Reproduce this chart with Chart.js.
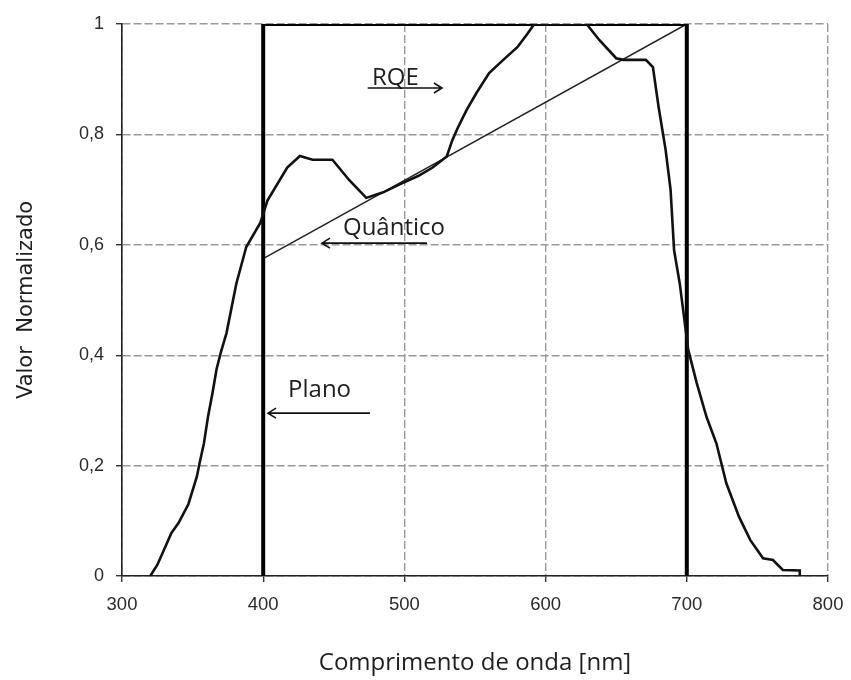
<!DOCTYPE html>
<html>
<head>
<meta charset="utf-8">
<script src="https://cdn.jsdelivr.net/npm/chart.js@4.4.1/dist/chart.umd.min.js"></script>
<style>
  html, body { margin: 0; padding: 0; background: #ffffff; }
  #wrap { width: 851px; height: 680px; }
</style>
</head>
<body>
<div id="wrap"><canvas id="c" width="851" height="680"></canvas></div>
<script>
// ---- Data ----
const rqeWavelength = [320, 325, 335, 340, 347, 353, 355, 358, 361, 364, 367, 370, 374, 381, 388, 398, 403, 417, 426, 435, 449, 461, 473, 485, 497, 510, 520, 530, 534, 538, 544, 551, 560, 570, 580, 587, 592, 600, 610, 620, 629, 638, 650, 655, 671, 676, 680, 685, 688.5, 691, 695, 698, 701, 707, 714, 721, 728, 737, 745, 754, 761, 768, 780, 780];
const rqeValue = [0.0, 0.02, 0.078, 0.096, 0.13, 0.18, 0.205, 0.24, 0.29, 0.33, 0.375, 0.405, 0.44, 0.53, 0.596, 0.64, 0.68, 0.74, 0.761, 0.754, 0.754, 0.717, 0.685, 0.695, 0.71, 0.725, 0.74, 0.76, 0.79, 0.813, 0.844, 0.875, 0.911, 0.935, 0.958, 0.982, 1.0, 1.0, 1.0, 1.0, 1.0, 0.971, 0.938, 0.935, 0.935, 0.922, 0.85, 0.772, 0.70, 0.59, 0.53, 0.47, 0.41, 0.35, 0.288, 0.24, 0.168, 0.107, 0.065, 0.032, 0.029, 0.011, 0.01, 0.0];

const planoWavelength = [400, 400, 700, 700];
const planoValue = [0, 1, 1, 0];

const quanticoWavelength = [400, 700];
const quanticoValue = [0.575, 1.0];

const xTicks = [300, 400, 500, 600, 700, 800];
const yTicks = [0, 0.2, 0.4, 0.6, 0.8, 1];

const seriesNames = ['RQE', 'Plano', 'Quântico'];
const xTitle = 'Comprimento de onda [nm]';
const yTitle = 'Valor  Normalizado';

// Annotation labels (data coordinates)
const labelText = ['RQE', 'Quântico', 'Plano'];
const labelX = [477, 456.5, 417.6];
const labelY = [0.889, 0.618, 0.324];
// Arrows: from (tail) -> to (head)
const arrowFromX = [474, 516, 475.6];
const arrowToX = [526.6, 441.6, 403.4];
const arrowY = [0.884, 0.603, 0.295];

// ---- Build datasets ----
const toPts = (xs, ys) => xs.map((x, i) => ({ x: x, y: ys[i] }));

const annotPlugin = {
  id: 'annot',
  afterDatasetsDraw(chart) {
    const ctx = chart.ctx;
    const xs = chart.scales.x, ys = chart.scales.y;
    ctx.save();
    ctx.fillStyle = '#1e1e1e';
    ctx.font = '24px "Open Sans"';
    ctx.textBaseline = 'alphabetic';
    ctx.textAlign = 'left';
    labelText.forEach((t, i) => {
      ctx.fillText(t, xs.getPixelForValue(labelX[i]), ys.getPixelForValue(labelY[i]));
    });
    ctx.strokeStyle = '#111';
    ctx.lineWidth = 1.6;
    arrowFromX.forEach((fx, i) => {
      const x1 = xs.getPixelForValue(fx);
      const x2 = xs.getPixelForValue(arrowToX[i]);
      const y = ys.getPixelForValue(arrowY[i]);
      const dir = x2 > x1 ? 1 : -1;
      ctx.beginPath();
      ctx.moveTo(x1, y);
      ctx.lineTo(x2, y);
      ctx.moveTo(x2 - dir * 8, y - 5);
      ctx.lineTo(x2, y);
      ctx.lineTo(x2 - dir * 8, y + 5);
      ctx.stroke();
    });
    ctx.restore();
  }
};

new Chart(document.getElementById('c'), {
  type: 'scatter',
  data: {
    datasets: [
      {
        label: seriesNames[0],
        data: toPts(rqeWavelength, rqeValue),
        showLine: true,
        borderColor: '#111',
        borderWidth: 2.6,
        pointRadius: 0,
        tension: 0,
        fill: false
      },
      {
        label: seriesNames[1],
        data: toPts(planoWavelength, planoValue),
        showLine: true,
        borderColor: '#000',
        borderWidth: 4,
        pointRadius: 0,
        tension: 0,
        fill: false
      },
      {
        label: seriesNames[2],
        data: toPts(quanticoWavelength, quanticoValue),
        showLine: true,
        borderColor: '#222',
        borderWidth: 1.5,
        pointRadius: 0,
        tension: 0,
        fill: false
      }
    ]
  },
  options: {
    responsive: false,
    animation: false,
    devicePixelRatio: 1,
    layout: { padding: { left: 0, right: 23, top: 24, bottom: 0 } },
    plugins: {
      legend: { display: false },
      tooltip: { enabled: false },
      title: { display: false }
    },
    scales: {
      x: {
        type: 'linear',
        min: 300,
        max: 800,
        afterBuildTicks: (scale) => { scale.ticks = xTicks.map(v => ({ value: v })); },
        afterFit: (scale) => { scale.height = 104; scale.paddingLeft = 0; scale.paddingRight = 0; },
        ticks: {
          color: '#2a2a2a',
          font: { family: '"Liberation Sans", Arial, sans-serif', size: 18.5 },
          padding: 12,
          maxRotation: 0,
          callback: (v) => String(v)
        },
        grid: {
          color: '#9a9a9a',
          lineWidth: 1.4,
          tickLength: 6,
          tickColor: '#333',
          tickWidth: 1.4
        },
        border: { display: true, color: '#222', width: 1.6, dash: [8, 3] },
        title: {
          display: true,
          text: xTitle,
          color: '#1e1e1e',
          font: { family: '"Open Sans", sans-serif', size: 24 },
          padding: { top: 0, bottom: 2 }
        }
      },
      y: {
        type: 'linear',
        min: 0,
        max: 1,
        afterBuildTicks: (scale) => { scale.ticks = yTicks.map(v => ({ value: v })); },
        afterFit: (scale) => { scale.width = 122; scale.paddingTop = 0; scale.paddingBottom = 0; },
        ticks: {
          color: '#2a2a2a',
          font: { family: '"Liberation Sans", Arial, sans-serif', size: 18 },
          padding: 12,
          callback: (v) => String(Math.round(v * 10) / 10).replace('.', ',')
        },
        grid: {
          color: '#9a9a9a',
          lineWidth: 1.4,
          tickLength: 6,
          tickColor: '#333',
          tickWidth: 1.4
        },
        border: { display: true, color: '#222', width: 1.6, dash: [8, 3] },
        title: {
          display: true,
          text: yTitle,
          color: '#1e1e1e',
          font: { family: '"DejaVu Sans", sans-serif', size: 21 },
          padding: { top: 14, bottom: 0 }
        }
      }
    }
  },
  plugins: [annotPlugin]
});
</script>
</body>
</html>
